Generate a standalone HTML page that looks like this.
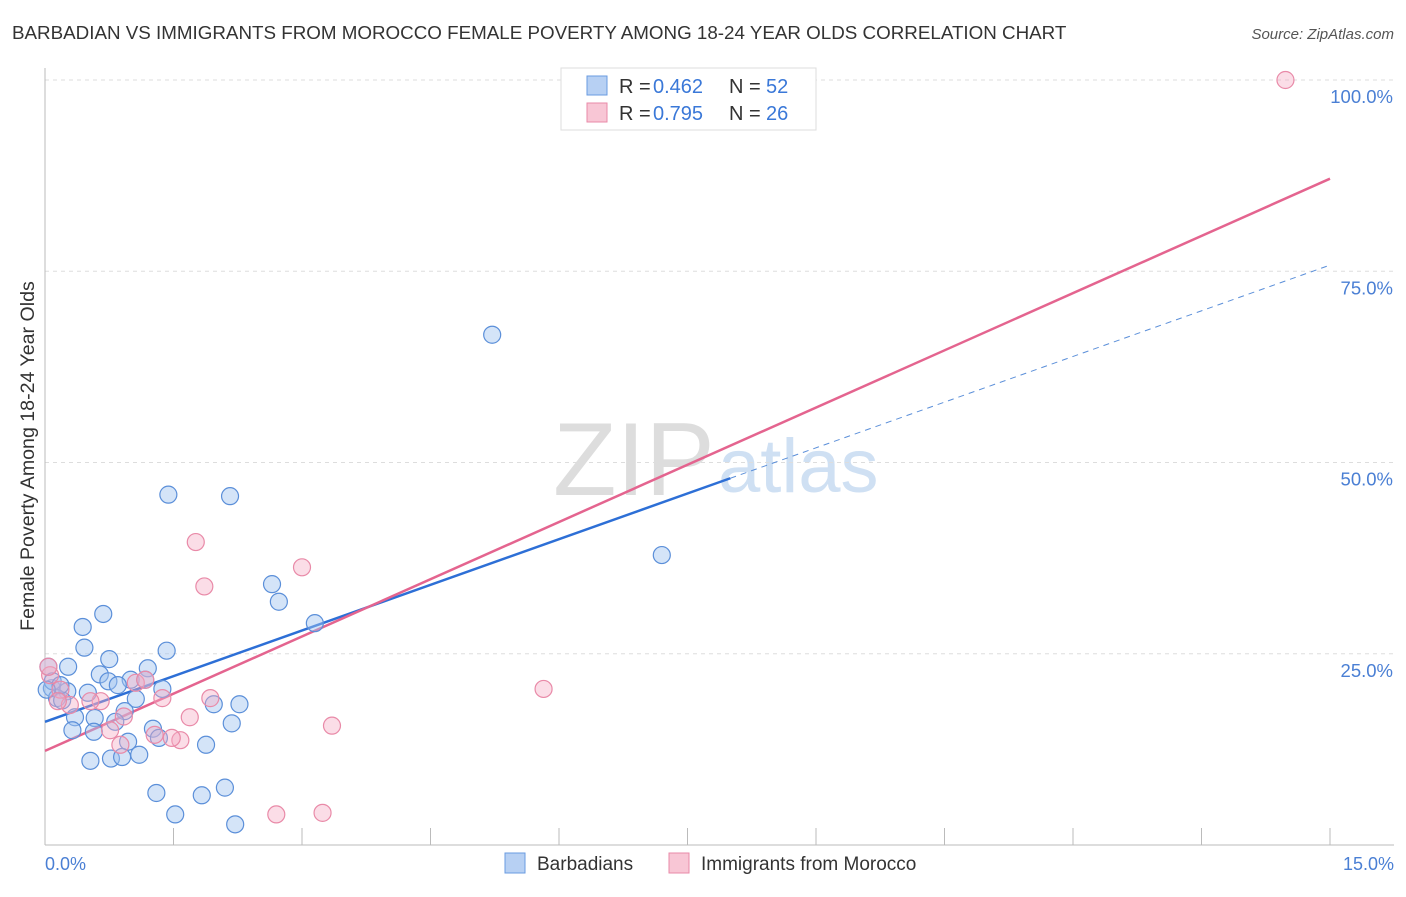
<!DOCTYPE html>
<html><head><meta charset="utf-8"><style>
body{margin:0;background:#fff;font-family:"Liberation Sans",sans-serif;}
svg text{font-family:"Liberation Sans",sans-serif;}
</style></head><body>
<svg id="chart" width="1406" height="892">
<text x="12" y="39" font-size="18.8" fill="#333">BARBADIAN VS IMMIGRANTS FROM MOROCCO FEMALE POVERTY AMONG 18-24 YEAR OLDS CORRELATION CHART</text>
<text x="1394" y="39" font-size="15" fill="#555" font-style="italic" text-anchor="end">Source: ZipAtlas.com</text>
<text x="553" y="495" font-size="104" fill="#ddd" font-family="Liberation Serif">ZIP</text>
<text x="718" y="492" font-size="76" fill="#cfe0f3">atlas</text>
<g id="grid"></g><g id="axes"></g><g id="trend"></g><g id="points"></g>
<text transform="translate(34,456) rotate(-90)" font-size="19.6" fill="#333" text-anchor="middle">Female Poverty Among 18-24 Year Olds</text>
<text x="45" y="870" font-size="18" fill="#4a7fd4">0.0%</text>
<text x="1394" y="870" font-size="18" fill="#4a7fd4" text-anchor="end">15.0%</text>
<g>
<rect x="561" y="68" width="255" height="62" fill="#fff" stroke="#ddd"/>
<rect x="587" y="76" width="20" height="19" fill="#b7d0f3" stroke="#6a9be0"/>
<text x="619" y="93" font-size="20" fill="#333">R =</text><text x="653" y="93" font-size="20" fill="#3a78d8">0.462</text>
<text x="729" y="93" font-size="20" fill="#333">N =</text><text x="766" y="93" font-size="20" fill="#3a78d8">52</text>
<rect x="587" y="103" width="20" height="19" fill="#f8c6d5" stroke="#e98aa8"/>
<text x="619" y="120" font-size="20" fill="#333">R =</text><text x="653" y="120" font-size="20" fill="#3a78d8">0.795</text>
<text x="729" y="120" font-size="20" fill="#333">N =</text><text x="766" y="120" font-size="20" fill="#3a78d8">26</text>
</g>
<g>
<rect x="505" y="853" width="20" height="20" fill="#b7d0f3" stroke="#6a9be0"/>
<text x="537" y="870" font-size="19" fill="#333">Barbadians</text>
<rect x="669" y="853" width="20" height="20" fill="#f8c6d5" stroke="#e98aa8"/>
<text x="701" y="870" font-size="19" fill="#333">Immigrants from Morocco</text>
</g>
</svg>
<script>
const blueX=[5.22,1.44,2.16,7.20,2.65,2.73,0.68,0.44,3.15,0.46,1.42,0.75,0.27,1.20,0.64,1.00,1.17,0.74,0.85,1.37,0.08,0.26,0.50,1.06,1.97,2.27,0.14,0.20,0.93,0.35,0.58,0.82,2.18,1.26,0.32,0.57,1.33,0.97,1.88,0.53,0.77,0.90,1.10,1.30,1.83,2.10,1.52,2.22,0.04,0.09,0.18,0.02];
const blueY=[66.7,45.8,45.6,37.9,34.1,31.8,30.2,28.5,29.0,25.8,25.4,24.3,23.3,23.1,22.3,21.6,21.6,21.4,20.9,20.4,20.5,20.1,19.9,19.1,18.4,18.4,19.2,18.9,17.5,16.7,16.6,16.1,15.9,15.2,15.0,14.8,14.0,13.5,13.1,11.0,11.3,11.5,11.8,6.8,6.5,7.5,4.0,2.7,23.3,21.4,20.9,20.3];
const pinkX=[14.48,1.76,3.00,1.86,5.82,3.35,2.70,3.24,1.93,1.37,1.69,1.06,0.65,0.92,1.28,1.58,1.48,0.88,0.18,0.06,0.29,0.53,0.15,0.04,0.76,1.17];
const pinkY=[100,39.6,36.3,33.8,20.4,15.6,4.0,4.2,19.2,19.2,16.7,21.2,18.8,16.8,14.4,13.7,14.0,13.1,20.3,22.2,18.3,18.8,18.8,23.3,15.0,21.6];
const blueTrend=[16.1,75.8], blueSolidEnd=8.0;
const pinkTrend=[12.3,87.1];
const yTicks=[25,50,75,100];
const NS="http://www.w3.org/2000/svg";
const sx=v=>45+v/15*1285, sy=v=>845-v/100*765;
function mk(p,tag,at){const e=document.createElementNS(NS,tag);for(const k in at)e.setAttribute(k,at[k]);p.appendChild(e);return e;}
const grid=document.getElementById('grid'),axes=document.getElementById('axes'),trend=document.getElementById('trend'),pts=document.getElementById('points');
yTicks.forEach(t=>{
 const l=mk(grid,'line',{x1:45,x2:1394,y1:sy(t),y2:sy(t),stroke:'#ddd','stroke-dasharray':'4,4'});
 
 
 const tx=mk(grid,'text',{x:1393,y:sy(t)+23,'font-size':18.5,fill:'#4a7fd4','text-anchor':'end'});
 tx.textContent=t.toFixed(1)+'%';
 
 
});
const ax=mk(axes,'line',{x1:45,x2:1394,y1:845,y2:845,stroke:'#bbb'});


const ay=mk(axes,'line',{x1:45,x2:45,y1:68,y2:845,stroke:'#bbb'});


for(let i=1;i<=10;i++){const t=mk(axes,'line',{x1:sx(i*1.5),x2:sx(i*1.5),y1:828,y2:845,stroke:'#bbb'});
 
 }
function lineAt(tr,x){return tr[0]+(tr[1]-tr[0])*x/15;}
const bl=mk(trend,'line',{x1:sx(0),y1:sy(blueTrend[0]),x2:sx(blueSolidEnd),y2:sy(lineAt(blueTrend,blueSolidEnd)),stroke:'#2d6fd6','stroke-width':2.5});


const bd=mk(trend,'line',{x1:sx(blueSolidEnd),y1:sy(lineAt(blueTrend,blueSolidEnd)),x2:sx(15),y2:sy(blueTrend[1]),stroke:'#5b8fd9','stroke-width':1,'stroke-dasharray':'6,5'});


const pl=mk(trend,'line',{x1:sx(0),y1:sy(pinkTrend[0]),x2:sx(15),y2:sy(pinkTrend[1]),stroke:'#e4648f','stroke-width':2.5});


blueX.forEach((x,i)=>{const c=mk(pts,'circle',{cx:sx(x),cy:sy(blueY[i]),r:8.5,fill:'rgba(160,196,240,0.45)',stroke:'#5b8fd9','stroke-width':1.2});
 
 });
pinkX.forEach((x,i)=>{const c=mk(pts,'circle',{cx:sx(x),cy:sy(pinkY[i]),r:8.5,fill:'rgba(245,170,195,0.4)',stroke:'#e98aa8','stroke-width':1.2});
 
 });
</script>
</body></html>
